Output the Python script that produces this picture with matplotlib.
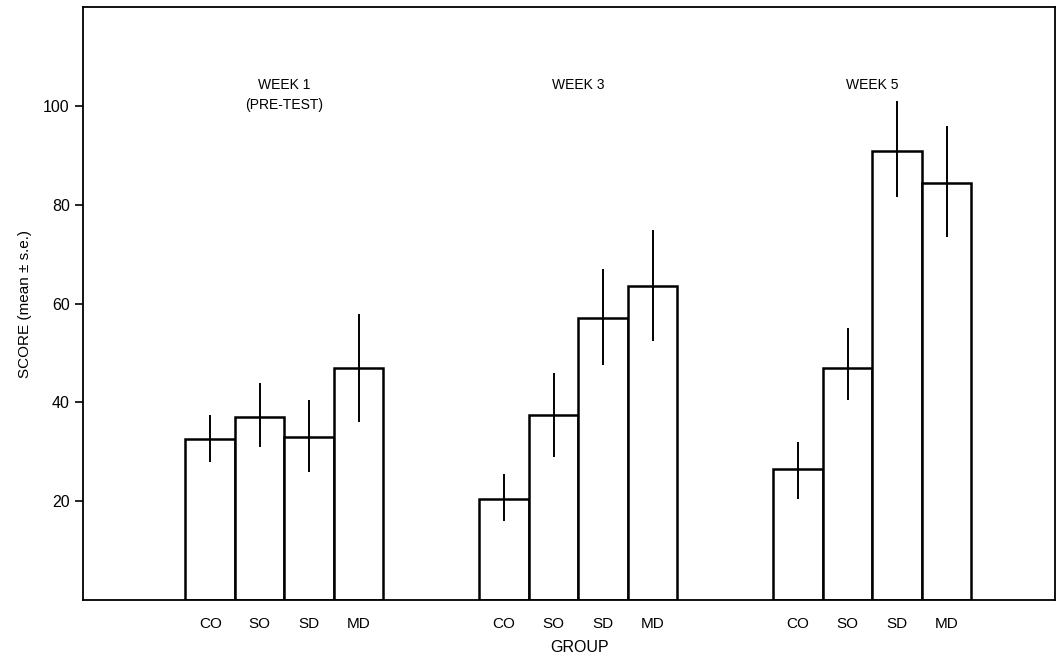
import matplotlib
matplotlib.use('Agg')
import matplotlib.pyplot as plt


# --------------------------------------------------------------------------------
# Datos --------------------------------------------------------------------------
# --------------------------------------------------------------------------------

grupos = ['CO', 'SO', 'SD', 'MD']
semanas = ['WEEK 1\n(PRE-TEST)', 'WEEK 3', 'WEEK 5']

media_w1 = [32.5, 37.0, 33.0, 47.0]
media_w3 = [20.5, 37.5, 57.0, 63.5]
media_w5 = [26.5, 47.0, 91.0, 84.5]

err_inf_w1 = [4.5, 6.0, 7.0, 11.0]
err_sup_w1 = [5.0, 7.0, 7.5, 11.0]
err_inf_w3 = [4.5, 8.5, 9.5, 11.0]
err_sup_w3 = [5.0, 8.5, 10.0, 11.5]
err_inf_w5 = [6.0, 6.5, 9.5, 11.0]
err_sup_w5 = [5.5, 8.0, 10.0, 11.5]

yticks = [20, 40, 60, 80, 100]

# --------------------------------------------------------------------------------

medias = [media_w1, media_w3, media_w5]
errs_inf = [err_inf_w1, err_inf_w3, err_inf_w5]
errs_sup = [err_sup_w1, err_sup_w3, err_sup_w5]

plt.rcParams['font.family'] = ['Liberation Sans', 'DejaVu Sans']

fig = plt.figure(figsize=(10.6, 6.63), dpi=100)
ax = fig.add_axes([0.0783, 0.095, 0.917, 0.894])

inicio = 2.57
paso = 5.94
xs_todos = []
for g in range(3):
    xs = [inicio + g * paso + i for i in range(len(grupos))]
    xs_todos += xs
    ax.bar(xs, medias[g], width=1.0, facecolor='white', edgecolor='black',
           linewidth=1.8, zorder=2)
    ax.errorbar(xs, medias[g], yerr=[errs_inf[g], errs_sup[g]], fmt='none',
                ecolor='black', elinewidth=1.4, capsize=0, zorder=3)
    centro = xs[0] + 1.5
    ax.text(centro, 105.6, semanas[g], ha='center', va='top', fontsize=10,
            linespacing=1.5)

ax.set_xlim(0, 19.64)
ax.set_ylim(0, 120)
ax.set_yticks(yticks)
ax.set_xticks(xs_todos)
ax.set_xticklabels(grupos * 3, fontsize=11)
ax.tick_params(axis='x', length=0, pad=12)
ax.tick_params(axis='y', direction='out', length=6, width=1.2, labelsize=11.5)

ax.set_ylabel('SCORE (mean ± s.e.)', fontsize=11, labelpad=8)
ax.set_xlabel('GROUP', fontsize=11.5, labelpad=10)
ax.xaxis.set_label_coords((580 - 83) / 972, -0.068)

for s in ax.spines.values():
    s.set_linewidth(1.3)

fig.savefig('out.png', dpi=100)
